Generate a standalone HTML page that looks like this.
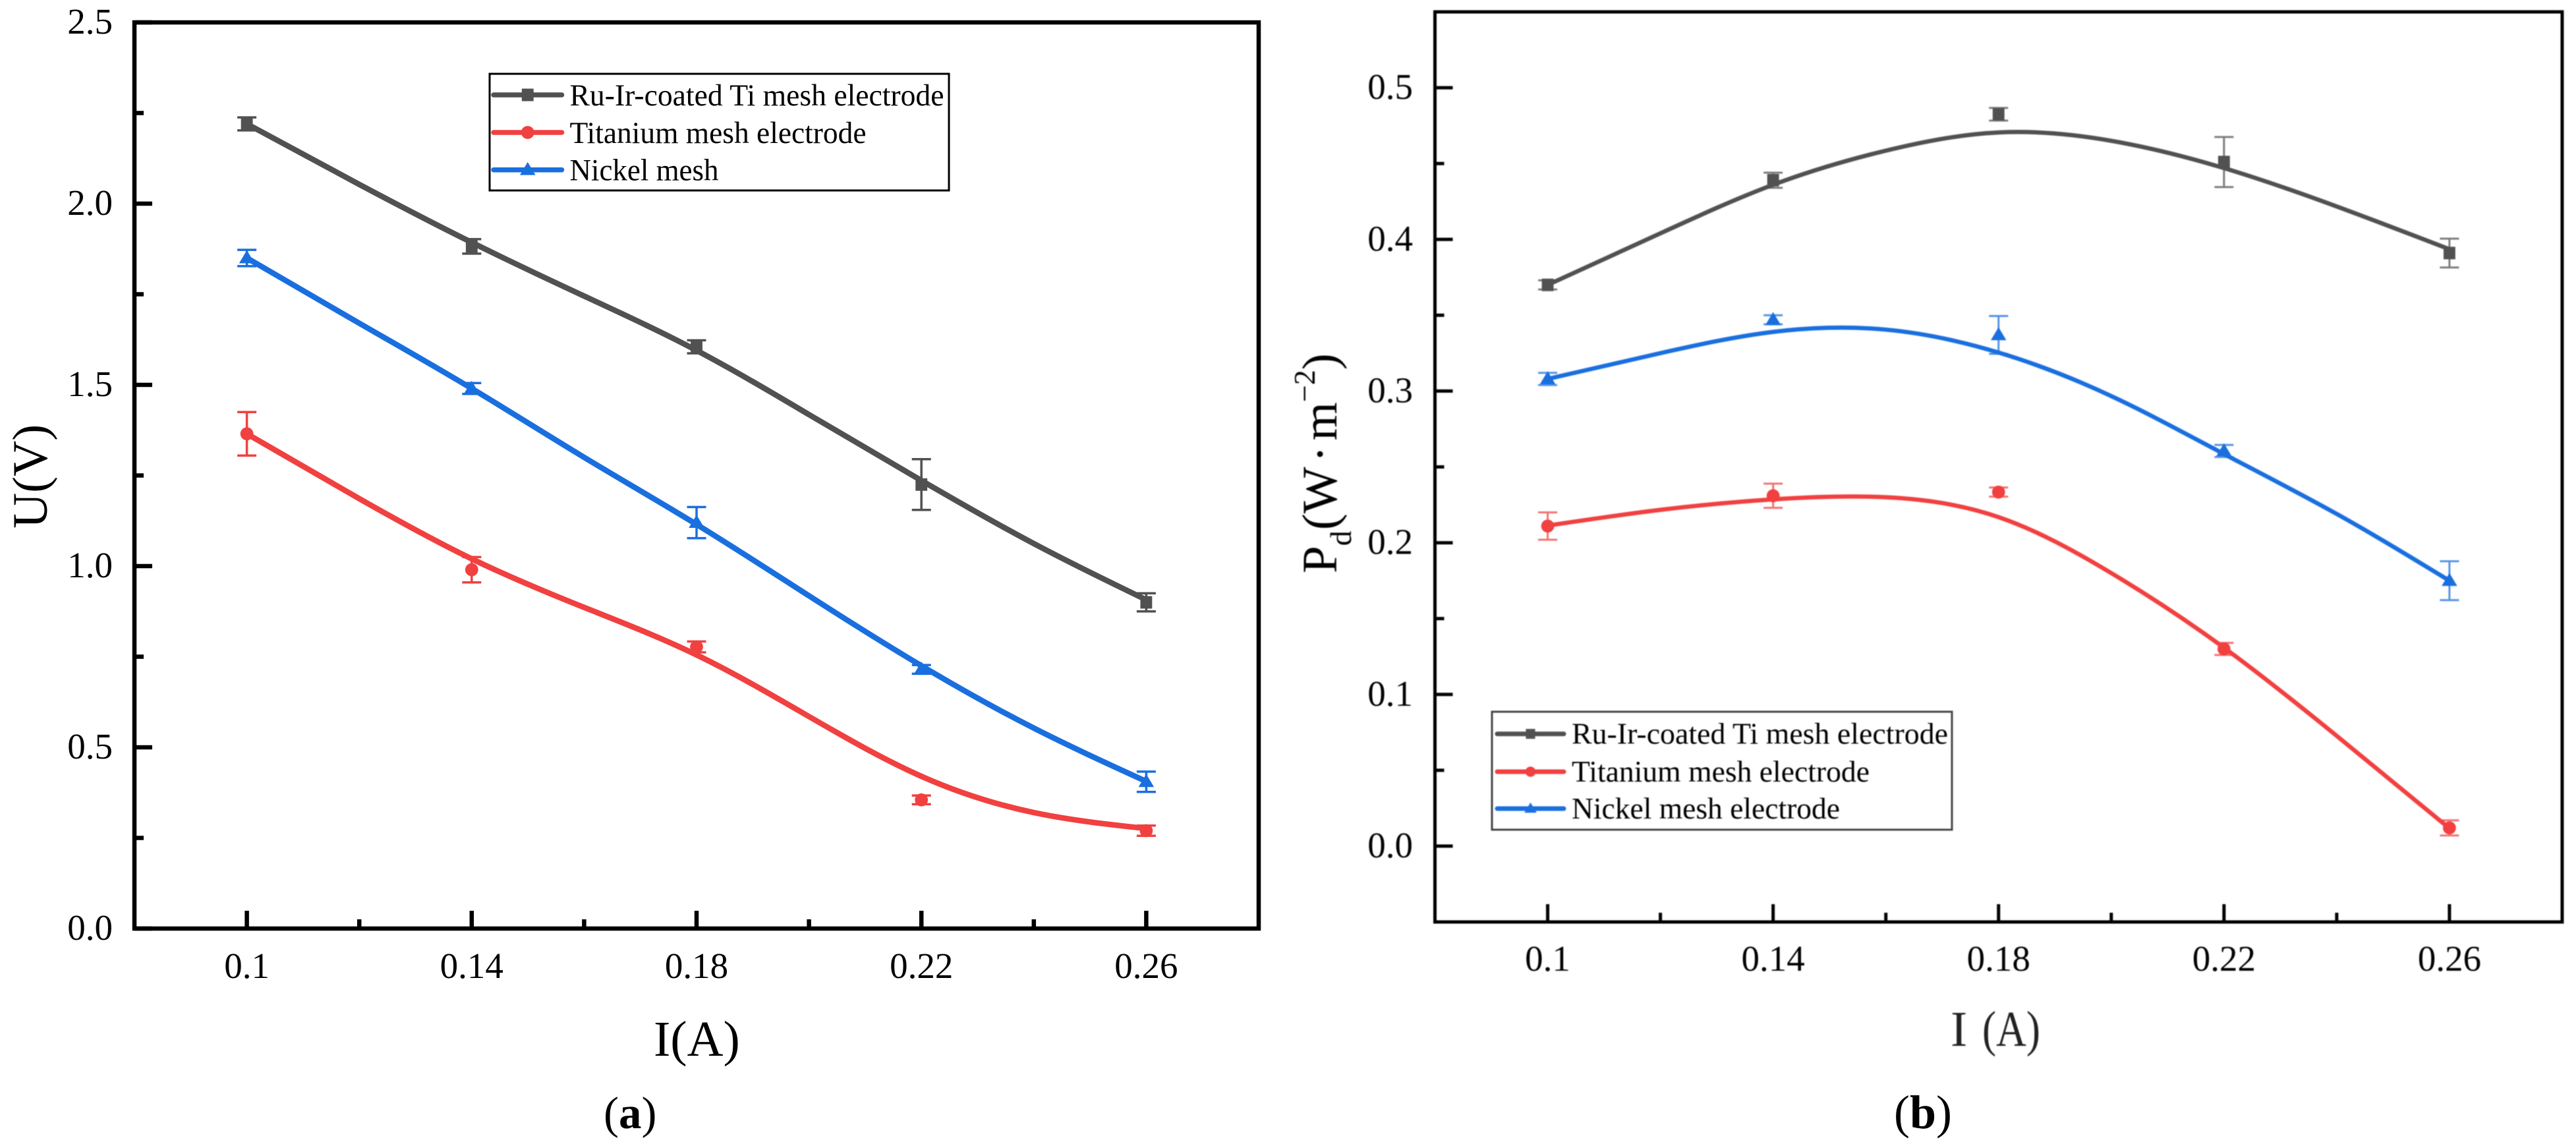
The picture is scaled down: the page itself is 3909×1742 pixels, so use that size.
<!DOCTYPE html>
<html lang="en">
<head>
<meta charset="utf-8">
<title>Voltage and power density versus current</title>
<style>
  html, body { margin: 0; padding: 0; background: #fff; }
  body { width: 3909px; height: 1742px; overflow: hidden; }
  svg { display: block; }
  text { font-family: "Liberation Serif", serif; fill: #000; }
</style>
</head>
<body>
<svg id="figure" xmlns="http://www.w3.org/2000/svg" width="3909" height="1742" viewBox="0 0 3909 1742">
  <rect x="0" y="0" width="3909" height="1742" fill="#ffffff"/>
  <g id="panel-a"></g>
  <g id="panel-b" style="filter:blur(0.7px)"></g>

  <text x="992" y="1602" font-size="76">I(A)</text>
  <text transform="translate(71,802) rotate(-90)" font-size="75">U(V)</text>
  <text x="916" y="1712" font-size="69">(<tspan font-weight="bold">a</tspan>)</text>

  <g style="filter:blur(0.7px)">
    <text x="2960" y="1587" font-size="76" style="fill:#222">I</text>
    <text x="3008" y="1587" font-size="76" textLength="88" lengthAdjust="spacingAndGlyphs" style="fill:#222">(A)</text>
    <text transform="translate(2028,870) rotate(-90)" font-size="75">P<tspan dy="22" font-size="46">d</tspan><tspan dy="-22" dx="1">(W</tspan><tspan dx="7">·</tspan><tspan dx="8">m</tspan><tspan dy="-33" font-size="46">−2</tspan><tspan dy="33">)</tspan></text>
  </g>
  <text x="2874" y="1712" font-size="72">(<tspan font-weight="bold">b</tspan>)</text>
</svg>

<script>
// Shared categories and tick labels
const currents = [0.1, 0.14, 0.18, 0.22, 0.26];
const currentTickLabels = ['0.1', '0.14', '0.18', '0.22', '0.26'];
const curveCurrents = [0.1, 0.12, 0.14, 0.16, 0.18, 0.2, 0.22, 0.24, 0.26];
const seriesNames = ['ru-ir', 'titanium', 'nickel'];
const seriesColors = ['#515151', '#f14040', '#1a6fdf'];
const seriesShapes = ['square', 'circle', 'triangle'];

// Panel (a): voltage
const voltageTicks = [0, 0.5, 1.0, 1.5, 2.0, 2.5];
const voltageTickLabels = ['0.0', '0.5', '1.0', '1.5', '2.0', '2.5'];
const voltageMinorTicks = [0.25, 0.75, 1.25, 1.75, 2.25];
const voltageRuIr = [2.22, 1.882, 1.605, 1.225, 0.90];
const voltageRuIrErr = [0.018, 0.02, 0.018, 0.07, 0.025];
const voltageTitanium = [1.365, 0.99, 0.777, 0.355, 0.27];
const voltageTitaniumErr = [0.06, 0.035, 0.015, 0.012, 0.014];
const voltageNickel = [1.85, 1.49, 1.12, 0.715, 0.405];
const voltageNickelErr = [0.0225, 0.015, 0.043, 0.012, 0.028];
const voltageRuIrCurve = [2.22, 2.053, 1.893, 1.745, 1.595, 1.418, 1.236, 1.062, 0.907];
const voltageTitaniumCurve = [1.365, 1.186, 1.02, 0.886, 0.755, 0.585, 0.42, 0.32, 0.276];
const voltageNickelCurve = [1.85, 1.67, 1.49, 1.30, 1.115, 0.918, 0.725, 0.553, 0.406];

// Panel (b): power density
const powerTicks = [0, 0.1, 0.2, 0.3, 0.4, 0.5];
const powerTickLabels = ['0.0', '0.1', '0.2', '0.3', '0.4', '0.5'];
const powerMinorTicks = [0.05, 0.15, 0.25, 0.35, 0.45];
const powerRuIr = [0.37, 0.439, 0.4825, 0.451, 0.391];
const powerRuIrErr = [0.003, 0.005, 0.0042, 0.0165, 0.0095];
const powerTitanium = [0.211, 0.231, 0.2334, 0.130, 0.012];
const powerTitaniumErr = [0.009, 0.008, 0.003, 0.004, 0.005];
const powerNickel = [0.308, 0.347, 0.337, 0.2605, 0.175];
const powerNickelErr = [0.004, 0.003, 0.0125, 0.004, 0.0128];
const powerRuIrCurve = [0.37, 0.404, 0.436, 0.4585, 0.4705, 0.465, 0.447, 0.4217, 0.3935];
const powerTitaniumCurve = [0.2113, 0.2217, 0.2286, 0.23, 0.2169, 0.18, 0.1308, 0.0727, 0.0117];
const powerNickelCurve = [0.308, 0.325, 0.339, 0.3405, 0.3254, 0.2967, 0.2585, 0.219, 0.175];

// Legend entries
const legendALabels = ['Ru-Ir-coated Ti mesh electrode', 'Titanium mesh electrode', 'Nickel mesh'];
const legendBLabels = ['Ru-Ir-coated Ti mesh electrode', 'Titanium mesh electrode', 'Nickel mesh electrode'];

const SVGNS = 'http://www.w3.org/2000/svg';

function make(parent, tag, attrs) {
  const node = document.createElementNS(SVGNS, tag);
  for (const key in attrs) node.setAttribute(key, attrs[key]);
  parent.appendChild(node);
  return node;
}

// Natural cubic spline through the fit points, emitted as Bezier segments.
function curvePath(xs, ys, sx, sy) {
  const px = xs.map(sx);
  const py = ys.map(sy);
  const n = px.length;
  const h = [];
  for (let i = 0; i < n - 1; i++) h.push(px[i + 1] - px[i]);
  const a = new Array(n).fill(0), b = new Array(n).fill(1), c = new Array(n).fill(0), r = new Array(n).fill(0);
  for (let i = 1; i < n - 1; i++) {
    a[i] = h[i - 1];
    b[i] = 2 * (h[i - 1] + h[i]);
    c[i] = h[i];
    r[i] = 6 * ((py[i + 1] - py[i]) / h[i] - (py[i] - py[i - 1]) / h[i - 1]);
  }
  for (let i = 1; i < n; i++) {
    const m = a[i] / b[i - 1];
    b[i] -= m * c[i - 1];
    r[i] -= m * r[i - 1];
  }
  const m2 = new Array(n).fill(0);
  m2[n - 1] = r[n - 1] / b[n - 1];
  for (let i = n - 2; i >= 0; i--) m2[i] = (r[i] - c[i] * m2[i + 1]) / b[i];
  let d = 'M' + px[0].toFixed(2) + ' ' + py[0].toFixed(2);
  for (let i = 0; i < n - 1; i++) {
    const slope = (py[i + 1] - py[i]) / h[i];
    const t0 = slope - h[i] * (2 * m2[i] + m2[i + 1]) / 6;
    const t1 = slope + h[i] * (m2[i] + 2 * m2[i + 1]) / 6;
    d += ' C' + (px[i] + h[i] / 3).toFixed(2) + ' ' + (py[i] + t0 * h[i] / 3).toFixed(2) + ' ' +
      (px[i + 1] - h[i] / 3).toFixed(2) + ' ' + (py[i + 1] - t1 * h[i] / 3).toFixed(2) + ' ' +
      px[i + 1].toFixed(2) + ' ' + py[i + 1].toFixed(2);
  }
  return d;
}

function drawMarker(parent, shape, cx, cy, size, color) {
  let el;
  if (shape === 'square') {
    el = make(parent, 'rect', { x: cx - size * 0.47, y: cy - size * 0.5, width: size * 0.94, height: size, fill: color });
  } else if (shape === 'circle') {
    el = make(parent, 'circle', { cx: cx, cy: cy, r: size * 0.52, fill: color });
  } else {
    el = make(parent, 'polygon', {
      points: cx + ',' + (cy - size * 0.62) + ' ' + (cx - size * 0.62) + ',' + (cy + size * 0.42) + ' ' + (cx + size * 0.62) + ',' + (cy + size * 0.42),
      fill: color
    });
  }
  
  
  return el;
}

function drawPanel(group, cfg) {
  const sx = v => cfg.left + (v - cfg.xMin) / (cfg.xMax - cfg.xMin) * (cfg.right - cfg.left);
  const sy = v => cfg.bottom - (v - cfg.yMin) / (cfg.yMax - cfg.yMin) * (cfg.bottom - cfg.top);

  // series
  cfg.series.forEach((s, k) => {
    const g = make(group, 'g', {});
    
    
    const line = make(g, 'path', {
      d: curvePath(curveCurrents, s.curve, sx, sy),
      fill: 'none', stroke: seriesColors[k], 'stroke-width': cfg.lineWidth,
      'stroke-linecap': 'round', 'stroke-linejoin': 'round'
    });
    
    
    s.values.forEach((v, i) => {
      const x = sx(currents[i]);
      const hi = sy(v + s.err[i]);
      const lo = sy(v - s.err[i]);
      const bar = make(g, 'path', {
        d: 'M' + x + ' ' + hi + 'V' + lo + 'M' + (x - cfg.capHalf) + ' ' + hi + 'H' + (x + cfg.capHalf) + 'M' + (x - cfg.capHalf) + ' ' + lo + 'H' + (x + cfg.capHalf),
        fill: 'none', stroke: seriesColors[k], 'stroke-width': cfg.errWidth, opacity: cfg.errOpacity
      });
      
      
      drawMarker(g, seriesShapes[k], x, sy(v), cfg.markerSize, seriesColors[k]);
    });
  });

  // frame
  const frame = make(group, 'rect', {
    x: cfg.left, y: cfg.top, width: cfg.right - cfg.left, height: cfg.bottom - cfg.top,
    fill: 'none', stroke: '#000', 'stroke-width': cfg.frameWidth
  });
  
  

  // x ticks
  currents.forEach((v, i) => {
    const x = sx(v);
    const t = make(group, 'line', { x1: x, x2: x, y1: cfg.bottom, y2: cfg.bottom - cfg.majorLen, stroke: '#000', 'stroke-width': cfg.tickWidth });
    
    
    const label = make(group, 'text', { x: x, y: cfg.xLabelBaseline, 'font-size': 55, 'text-anchor': 'middle' });
    label.textContent = currentTickLabels[i];
    
    
    if (i < currents.length - 1) {
      const mx = sx((v + currents[i + 1]) / 2);
      const m = make(group, 'line', { x1: mx, x2: mx, y1: cfg.bottom, y2: cfg.bottom - cfg.minorLen, stroke: '#000', 'stroke-width': cfg.tickWidth });
      
      
    }
  });

  // y ticks
  cfg.yTicks.forEach((v, i) => {
    const y = sy(v);
    const t = make(group, 'line', { x1: cfg.left, x2: cfg.left + cfg.majorLen, y1: y, y2: y, stroke: '#000', 'stroke-width': cfg.tickWidth });
    
    
    const label = make(group, 'text', { x: cfg.yLabelRight, y: y + 17, 'font-size': 55, 'text-anchor': 'end' });
    label.textContent = cfg.yTickLabels[i];
    
    
  });
  cfg.yMinor.forEach(v => {
    const y = sy(v);
    const m = make(group, 'line', { x1: cfg.left, x2: cfg.left + cfg.minorLen, y1: y, y2: y, stroke: '#000', 'stroke-width': cfg.tickWidth });
    
    
  });

  // legend
  const L = cfg.legend;
  const lg = make(group, 'g', {});
  
  
  const box = make(lg, 'rect', { x: L.x, y: L.y, width: L.w, height: L.h, fill: '#fff', stroke: L.stroke, 'stroke-width': 3 });
  
  
  L.labels.forEach((text, k) => {
    const rowY = L.rows[k];
    const sw = make(lg, 'line', { x1: L.lineX1, x2: L.lineX2, y1: rowY, y2: rowY, stroke: seriesColors[k], 'stroke-width': L.swatchWidth, 'stroke-linecap': 'round' });
    
    
    drawMarker(lg, seriesShapes[k], (L.lineX1 + L.lineX2) / 2, rowY, L.markerSize, seriesColors[k]);
    const label = make(lg, 'text', { x: L.textX, y: rowY + L.baselineOffset, 'font-size': L.fontSize, textLength: L.widths[k], lengthAdjust: 'spacingAndGlyphs' });
    label.textContent = text;
    
    
  });
}

drawPanel(document.getElementById('panel-a'), {
  left: 204, right: 1910, top: 34, bottom: 1409,
  xMin: 0.08, xMax: 0.28, yMin: 0, yMax: 2.5,
  yTicks: voltageTicks, yTickLabels: voltageTickLabels, yMinor: voltageMinorTicks,
  frameWidth: 6.5, tickWidth: 6.5, majorLen: 27, minorLen: 14,
  xLabelBaseline: 1484, yLabelRight: 171,
  lineWidth: 8.5, errWidth: 3.5, errOpacity: 1, capHalf: 14.5, markerSize: 19,
  series: [
    { values: voltageRuIr, err: voltageRuIrErr, curve: voltageRuIrCurve },
    { values: voltageTitanium, err: voltageTitaniumErr, curve: voltageTitaniumCurve },
    { values: voltageNickel, err: voltageNickelErr, curve: voltageNickelCurve }
  ],
  legend: {
    x: 743, y: 112, w: 697, h: 177, stroke: '#000', rows: [144, 201, 257.7],
    lineX1: 749, lineX2: 852.5, textX: 864.5, markerSize: 19, swatchWidth: 7.5,
    fontSize: 47, baselineOffset: 16,
    labels: legendALabels, widths: [568, 450, 226]
  }
});

drawPanel(document.getElementById('panel-b'), {
  left: 2177.5, right: 3888, top: 18, bottom: 1399,
  xMin: 0.08, xMax: 0.28, yMin: -0.05, yMax: 0.55,
  yTicks: powerTicks, yTickLabels: powerTickLabels, yMinor: powerMinorTicks,
  frameWidth: 5, tickWidth: 5, majorLen: 27, minorLen: 14,
  xLabelBaseline: 1473, yLabelRight: 2144,
  lineWidth: 6.5, errWidth: 3, errOpacity: 0.75, capHalf: 14.5, markerSize: 19,
  series: [
    { values: powerRuIr, err: powerRuIrErr, curve: powerRuIrCurve },
    { values: powerTitanium, err: powerTitaniumErr, curve: powerTitaniumCurve },
    { values: powerNickel, err: powerNickelErr, curve: powerNickelCurve }
  ],
  legend: {
    x: 2264, y: 1080, w: 698, h: 179, stroke: '#444', rows: [1113.6, 1171, 1227],
    lineX1: 2272, lineX2: 2373, textX: 2385, markerSize: 15, swatchWidth: 7,
    fontSize: 46, baselineOffset: 15,
    labels: legendBLabels, widths: [571, 452, 407]
  }
});
</script>
</body>
</html>
